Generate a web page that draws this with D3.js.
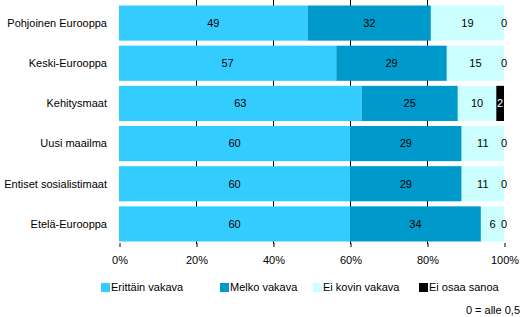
<!DOCTYPE html>
<html>
<head>
<meta charset="utf-8">
<script src="https://cdn.jsdelivr.net/npm/d3@7"></script>
<style>
  body { margin: 0; background: #fff; }
  svg text { font-family: "Liberation Sans", Arial, sans-serif; font-size: 11px; fill: #000; }
</style>
</head>
<body>
<div id="chart"></div>
<script>
    "use strict";
    // categories top to bottom
    var categories = ["Pohjoinen Eurooppa", "Keski-Eurooppa", "Kehitysmaat", "Uusi maailma", "Entiset sosialistimaat", "Etelä-Eurooppa"];
    var seriesNames = ["Erittäin vakava", "Melko vakava", "Ei kovin vakava", "Ei osaa sanoa"];
    var erittain = [49, 57, 63, 60, 60, 60];
    var melko = [32, 29, 25, 29, 29, 34];
    var eiKovin = [19, 15, 10, 11, 11, 6];
    var eiOsaa = [0, 0, 2, 0, 0, 0];
    var tickValues = [0, 0.2, 0.4, 0.6, 0.8, 1];
    var colors = ["#33CCFF", "#0099CC", "#CCFFFF", "#000000"];
    var note = "0 = alle 0,5";

    var rows = categories.map(function (c, i) {
        return { cat: c, s0: erittain[i], s1: melko[i], s2: eiKovin[i], s3: eiOsaa[i] };
    });
    var keys = ["s0", "s1", "s2", "s3"];

    var width = 525, height = 317;
    var svg = d3.select("#chart").append("svg")
        .attr("width", width)
        .attr("height", height);

    var x = d3.scaleLinear().domain([0, 1]).range([119, 504]);
    var y = d3.scaleBand().domain(categories).range([3, 244])
        .paddingInner(0.125).paddingOuter(0.0625);

    var stack = d3.stack().keys(keys).offset(d3.stackOffsetExpand);
    var layers = stack(rows);

    // gridlines (behind bars)
    svg.append("g").selectAll("line.grid")
        .data(tickValues.filter(function (t) { return t > 0 && t < 1; }))
        .enter().append("line")
        .attr("class", "grid")
        .attr("x1", function (d) { return Math.round(x(d)) + 0.5; })
        .attr("x2", function (d) { return Math.round(x(d)) + 0.5; })
        .attr("y1", 0)
        .attr("y2", 244)
        .attr("stroke", "#000")
        .attr("stroke-width", 1);

    // bottom axis ticks + labels
    var axis = d3.axisBottom(x)
        .tickValues(tickValues)
        .tickSize(4)
        .tickPadding(9)
        .tickFormat(d3.format(".0%"));
    var ax = svg.append("g")
        .attr("transform", "translate(0.5,243)")
        .call(axis);
    ax.select(".domain").remove();
    ax.selectAll("line").attr("stroke", "#000");
    ax.selectAll("text").style("font-family", "\"Liberation Sans\", Arial, sans-serif").style("font-size", "11px");

    // bars
    var layerG = svg.append("g").selectAll("g.layer")
        .data(layers)
        .enter().append("g")
        .attr("class", "layer")
        .attr("fill", function (d, i) { return colors[i]; });

    layerG.selectAll("rect")
        .data(function (d) { return d; })
        .enter().append("rect")
        .attr("x", function (d) { return x(d[0]); })
        .attr("y", function (d) { return y(d.data.cat); })
        .attr("width", function (d) { return x(d[1]) - x(d[0]); })
        .attr("height", y.bandwidth());

    // value labels, white only inside the black segment
    layers.forEach(function (layer, li) {
        svg.append("g").selectAll("text")
            .data(layer)
            .enter().append("text")
            .attr("x", function (d) { return (x(d[0]) + x(d[1])) / 2; })
            .attr("y", function (d) { return y(d.data.cat) + y.bandwidth() / 2; })
            .attr("dy", "0.35em")
            .attr("text-anchor", "middle")
            .style("fill", function (d) { return (li === 3 && d.data[layer.key] > 0) ? "#fff" : "#000"; })
            .text(function (d) { return d.data[layer.key]; });
    });

    // category labels
    svg.append("g").selectAll("text")
        .data(categories)
        .enter().append("text")
        .attr("x", 107)
        .attr("y", function (d) { return y(d) + y.bandwidth() / 2; })
        .attr("dy", "0.35em")
        .attr("text-anchor", "end")
        .text(function (d) { return d; });

    // legend
    var legendX = [101, 220, 313, 419];
    var legend = svg.append("g").selectAll("g.legend")
        .data(seriesNames)
        .enter().append("g")
        .attr("class", "legend")
        .attr("transform", function (d, i) { return "translate(" + legendX[i] + ",283)"; });
    legend.append("rect")
        .attr("width", 9)
        .attr("height", 9)
        .attr("fill", function (d, i) { return colors[i]; });
    legend.append("text")
        .attr("x", 10)
        .attr("y", 4.5)
        .attr("dy", "0.35em")
        .text(function (d) { return d; });

    svg.append("text")
        .attr("x", 520)
        .attr("y", 310)
        .attr("dy", "0.35em")
        .attr("text-anchor", "end")
        .text(note);
</script>
</body>
</html>
